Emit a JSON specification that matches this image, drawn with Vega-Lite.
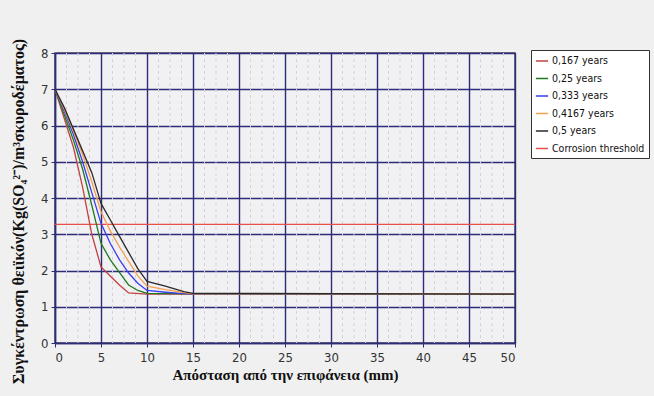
{
  "$schema": "https://vega.github.io/schema/vega-lite/v6.json",
  "width": 460,
  "height": 290,
  "autosize": {"type": "none"},
  "padding": {"left": 55, "top": 53, "right": 139, "bottom": 53},
  "background": "#f0f0f0",
  "config": {
    "view": {"stroke": "#4a4a5a", "strokeWidth": 1.5, "fill": "#f1f1f4"},
    "axis": {
      "labelFont": "DejaVu Sans Condensed, Liberation Sans",
      "labelFontSize": 13,
      "labelColor": "#333333",
      "titleFont": "Liberation Serif",
      "titleFontWeight": "bold",
      "titleColor": "#111111",
      "gridColor": "#2c2c78",
      "gridWidth": 1.4,
      "gridOpacity": 1,
      "domainColor": "#2c2c78",
      "domainWidth": 1.5,
      "tickColor": "#2c2c78",
      "tickSize": 4
    }
  },
  "datasets": {
    "minor": [
      {"x": 1.25}, {"x": 2.5}, {"x": 3.75}, {"x": 6.25}, {"x": 7.5}, {"x": 8.75},
      {"x": 11.25}, {"x": 12.5}, {"x": 13.75}, {"x": 16.25}, {"x": 17.5}, {"x": 18.75},
      {"x": 21.25}, {"x": 22.5}, {"x": 23.75}, {"x": 26.25}, {"x": 27.5}, {"x": 28.75},
      {"x": 31.25}, {"x": 32.5}, {"x": 33.75}, {"x": 36.25}, {"x": 37.5}, {"x": 38.75},
      {"x": 41.25}, {"x": 42.5}, {"x": 43.75}, {"x": 46.25}, {"x": 47.5}, {"x": 48.75}
    ],
    "series": [
      {"s": "Corrosion threshold", "x": 0, "y": 3.27},
      {"s": "Corrosion threshold", "x": 50, "y": 3.27},
      {"s": "0,167 years", "x": 0, "y": 7},
      {"s": "0,167 years", "x": 1, "y": 6.2},
      {"s": "0,167 years", "x": 2, "y": 5.4},
      {"s": "0,167 years", "x": 3, "y": 4.3},
      {"s": "0,167 years", "x": 4, "y": 3.0},
      {"s": "0,167 years", "x": 5, "y": 2.1},
      {"s": "0,167 years", "x": 6, "y": 1.85},
      {"s": "0,167 years", "x": 7, "y": 1.6},
      {"s": "0,167 years", "x": 8, "y": 1.38},
      {"s": "0,167 years", "x": 10, "y": 1.35},
      {"s": "0,167 years", "x": 50, "y": 1.35},
      {"s": "0,25 years", "x": 0, "y": 7},
      {"s": "0,25 years", "x": 1, "y": 6.3},
      {"s": "0,25 years", "x": 2, "y": 5.6},
      {"s": "0,25 years", "x": 3, "y": 4.8},
      {"s": "0,25 years", "x": 4, "y": 3.8},
      {"s": "0,25 years", "x": 5, "y": 2.75},
      {"s": "0,25 years", "x": 6, "y": 2.3},
      {"s": "0,25 years", "x": 7, "y": 1.95},
      {"s": "0,25 years", "x": 8, "y": 1.6},
      {"s": "0,25 years", "x": 9, "y": 1.45},
      {"s": "0,25 years", "x": 10, "y": 1.37},
      {"s": "0,25 years", "x": 12, "y": 1.36},
      {"s": "0,25 years", "x": 50, "y": 1.35},
      {"s": "0,333 years", "x": 0, "y": 7},
      {"s": "0,333 years", "x": 1, "y": 6.4},
      {"s": "0,333 years", "x": 2, "y": 5.75},
      {"s": "0,333 years", "x": 3, "y": 5.0},
      {"s": "0,333 years", "x": 4, "y": 4.15},
      {"s": "0,333 years", "x": 5, "y": 3.3},
      {"s": "0,333 years", "x": 6, "y": 2.75},
      {"s": "0,333 years", "x": 7, "y": 2.3},
      {"s": "0,333 years", "x": 8, "y": 1.93},
      {"s": "0,333 years", "x": 9, "y": 1.65},
      {"s": "0,333 years", "x": 10, "y": 1.45},
      {"s": "0,333 years", "x": 12, "y": 1.4},
      {"s": "0,333 years", "x": 14, "y": 1.36},
      {"s": "0,333 years", "x": 50, "y": 1.35},
      {"s": "0,4167 years", "x": 0, "y": 7},
      {"s": "0,4167 years", "x": 1, "y": 6.45},
      {"s": "0,4167 years", "x": 2, "y": 5.85},
      {"s": "0,4167 years", "x": 3, "y": 5.2},
      {"s": "0,4167 years", "x": 4, "y": 4.45},
      {"s": "0,4167 years", "x": 5, "y": 3.62},
      {"s": "0,4167 years", "x": 6, "y": 3.1},
      {"s": "0,4167 years", "x": 7, "y": 2.65},
      {"s": "0,4167 years", "x": 8, "y": 2.25},
      {"s": "0,4167 years", "x": 9, "y": 1.85},
      {"s": "0,4167 years", "x": 10, "y": 1.57},
      {"s": "0,4167 years", "x": 12, "y": 1.47},
      {"s": "0,4167 years", "x": 14, "y": 1.39},
      {"s": "0,4167 years", "x": 15, "y": 1.36},
      {"s": "0,4167 years", "x": 50, "y": 1.35},
      {"s": "0,5 years", "x": 0, "y": 7},
      {"s": "0,5 years", "x": 1, "y": 6.5},
      {"s": "0,5 years", "x": 2, "y": 5.9},
      {"s": "0,5 years", "x": 3, "y": 5.3},
      {"s": "0,5 years", "x": 4, "y": 4.7},
      {"s": "0,5 years", "x": 5, "y": 3.85},
      {"s": "0,5 years", "x": 6, "y": 3.4},
      {"s": "0,5 years", "x": 7, "y": 2.95},
      {"s": "0,5 years", "x": 8, "y": 2.5},
      {"s": "0,5 years", "x": 9, "y": 2.05},
      {"s": "0,5 years", "x": 10, "y": 1.7},
      {"s": "0,5 years", "x": 12, "y": 1.57},
      {"s": "0,5 years", "x": 14, "y": 1.42},
      {"s": "0,5 years", "x": 15, "y": 1.37},
      {"s": "0,5 years", "x": 50, "y": 1.35}
    ]
  },
  "layer": [
    {
      "data": {"name": "minor"},
      "mark": {"type": "rule", "color": "#d2d2d8", "strokeDash": [3, 3], "strokeWidth": 1},
      "encoding": {
        "x": {"field": "x", "type": "quantitative", "scale": {"domain": [0, 50], "nice": false}}
      }
    },
    {
      "data": {"name": "series"},
      "mark": {"type": "line", "strokeWidth": 1.3, "clip": true},
      "encoding": {
        "x": {
          "field": "x", "type": "quantitative",
          "scale": {"domain": [0, 50], "nice": false},
          "axis": {
            "values": [0, 5, 10, 15, 20, 25, 30, 35, 40, 45, 50],
            "title": "Απόσταση από την επιφάνεια (mm)",
            "titleFontSize": 15,
            "titlePadding": 3,
            "labelPadding": 4
          }
        },
        "y": {
          "field": "y", "type": "quantitative",
          "scale": {"domain": [0, 8], "nice": false},
          "axis": {
            "values": [0, 1, 2, 3, 4, 5, 6, 7, 8],
            "title": "Συγκέντρωση θειϊκόν(Kg(SO₄²⁻)/m³σκυροδέματος)",
            "titleFontSize": 16,
            "titlePadding": 14,
            "titleY": 158,
            "labelPadding": 3
          }
        },
        "color": {
          "field": "s", "type": "nominal",
          "scale": {
            "domain": ["0,167 years", "0,25 years", "0,333 years", "0,4167 years", "0,5 years", "Corrosion threshold"],
            "range": ["#c24040", "#1e7a1e", "#3c3cf0", "#f5a050", "#2a2a2a", "#e8504a"]
          },
          "sort": null,
          "legend": {
            "title": null,
            "orient": "none",
            "legendX": 476,
            "legendY": -3,
            "symbolType": "stroke",
            "symbolSize": 150,
            "symbolStrokeWidth": 1.5,
            "labelFont": "DejaVu Sans Condensed, Liberation Sans",
            "labelFontSize": 10.5,
            "labelOffset": 3,
            "labelLimit": 200,
            "labelColor": "#111111",
            "rowPadding": 4.5,
            "fillColor": "#ffffff",
            "strokeColor": "#333333",
            "padding": 4
          }
        },
        "detail": {"field": "s"}
      }
    }
  ]
}
